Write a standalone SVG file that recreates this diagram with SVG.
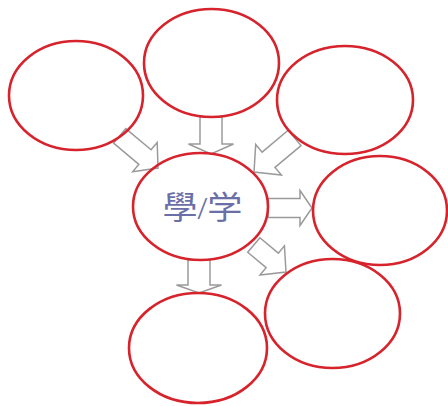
<svg xmlns="http://www.w3.org/2000/svg" width="448" height="406" viewBox="0 0 448 406">
  <style>
    .node { fill: none; stroke: #d6232c; stroke-width: 2.6; }
    .arrow { fill: #ffffff; stroke: #9a9a9a; stroke-width: 1.5; stroke-linejoin: miter; }
    .label { font-family: "Liberation Serif", "Noto Sans CJK TC", serif; font-size: 32px; fill: #6b6fa8; }
  </style>
  <rect x="0" y="0" width="448" height="406" fill="#ffffff"/>
  <g id="connectors">
    <!-- top-left to center -->
    <polygon class="arrow" transform="translate(158,168) rotate(40)" points="-50,-9.5 -17,-9.5 -17,-19 0,0 -17,19 -17,9.5 -50,9.5"/>
    <!-- top-center to center -->
    <polygon class="arrow" transform="translate(211,154) rotate(90)" points="-37,-11 -10,-11 -10,-22.5 0,0 -10,22.5 -10,11 -37,11"/>
    <!-- top-right to center -->
    <polygon class="arrow" transform="translate(254,172) rotate(140)" points="-53,-10 -19,-10 -19,-20 0,0 -19,20 -19,10 -53,10"/>
    <!-- center to right -->
    <polygon class="arrow" transform="translate(312,208)" points="-44,-9.5 -12,-9.5 -12,-17.5 0,0 -12,17.5 -12,9.5 -44,9.5"/>
    <!-- center to bottom-right -->
    <polygon class="arrow" transform="translate(286,272) rotate(40)" points="-42,-9.5 -18,-9.5 -18,-19 0,0 -18,19 -18,9.5 -42,9.5"/>
    <!-- center to bottom -->
    <polygon class="arrow" transform="translate(199,293) rotate(90)" points="-33,-11 -8,-11 -8,-22.5 0,0 -8,22.5 -8,11 -33,11"/>
  </g>
  <g id="node-top-left">
    <ellipse class="node" cx="76" cy="95.5" rx="67" ry="54.5"/>
  </g>
  <g id="node-top">
    <ellipse class="node" cx="211.5" cy="63" rx="67.5" ry="54"/>
  </g>
  <g id="node-top-right">
    <ellipse class="node" cx="345" cy="100" rx="68" ry="54"/>
  </g>
  <g id="node-center">
    <ellipse class="node" cx="200.5" cy="206.5" rx="67.5" ry="53.5"/>
    <text class="label" x="202.5" y="219" text-anchor="middle" textLength="80" lengthAdjust="spacingAndGlyphs">學/学</text>
  </g>
  <g id="node-right">
    <ellipse class="node" cx="380" cy="210.5" rx="67" ry="54.5"/>
  </g>
  <g id="node-bottom-right">
    <ellipse class="node" cx="332.5" cy="313.5" rx="67.5" ry="54.5"/>
  </g>
  <g id="node-bottom">
    <ellipse class="node" cx="198" cy="348" rx="69" ry="55"/>
  </g>
</svg>
